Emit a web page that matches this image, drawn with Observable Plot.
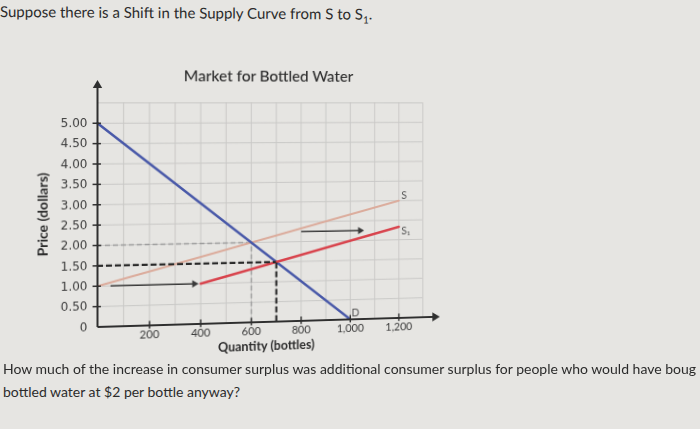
<!DOCTYPE html>
<html>
<head>
<meta charset="utf-8">
<script src="https://cdn.jsdelivr.net/npm/d3@7"></script>
<script src="https://cdn.jsdelivr.net/npm/@observablehq/plot@0.6"></script>
<style>
  html, body { margin: 0; padding: 0; background: #e6e5e2; width: 700px; height: 429px; overflow: hidden; }
  body { position: relative; font-family: Lato, "Open Sans", sans-serif; color: #2b2b2b; }
  #q1 { position: absolute; left: 0px; top: 2px; font-size: 15px; white-space: nowrap; transform: skewY(0.4deg); transform-origin: 0 0; }
  #chart { position: absolute; left: 0; top: 0; width: 700px; height: 360px; }
  #chart svg { transform-origin: 97px 103px; transform: matrix3d(1,0,0,0.000134, 0,1,0,0, 0,0,1,0, 0,0,0,1); overflow: visible; }
  .q2 { position: absolute; left: 3px; font-size: 14px; line-height: 16px; white-space: nowrap; }
  #q2a { top: 361px; }
  #q2b { top: 384px; }
</style>
</head>
<body>
<div id="q1">Suppose there is a Shift in the Supply Curve from S to S<sub style="font-size:10px">1</sub>.</div>
<div id="chart"></div>
<div class="q2" id="q2a">How much of the increase in consumer surplus was additional consumer surplus for people who would have boug</div>
<div class="q2" id="q2b">bottled water at $2 per bottle anyway?</div>
<script>
// ---- data ----
const chartTitle = "Market for Bottled Water";
const xLabel = "Quantity (bottles)";
const yLabel = "Price (dollars)";

const demandQ = [0, 1000];
const demandP = [5, 0];
const supplyQ = [0, 1200];
const supplyP = [1, 3];
const supply1Q = [400, 1200];
const supply1P = [1, 2.33];

const xTicks = [200, 400, 600, 800, 1000, 1200];
const yTicks = [0, 0.5, 1, 1.5, 2, 2.5, 3, 3.5, 4, 4.5, 5];
const gridXs = [0, 100, 200, 300, 400, 500, 600, 700, 800, 900, 1000, 1100, 1200, 1300];
const gridYs = [0.5, 1, 1.5, 2, 2.5, 3, 3.5, 4, 4.5, 5, 5.5];

const oldEqQ = 600, oldEqP = 2.0;
const newEqQ = 700, newEqP = 1.5;

const shiftFromQ = [50, 800];
const shiftToQ = [375, 1040];
const shiftP = [1.0, 2.25];

const curveLabels = ["S", "S₁", "D"];
const curveLabelQ = [1210, 1210, 1005];
const curveLabelP = [3.12, 2.22, 0.17];

// ---- build ----
const toPts = (qs, ps) => qs.map((q, i) => ({q, p: ps[i]}));
const D = toPts(demandQ, demandP);
const S = toPts(supplyQ, supplyP);
const S1 = toPts(supply1Q, supply1P);
const shifts = shiftFromQ.map((q, i) => ({q1: q, q2: shiftToQ[i], p: shiftP[i]}));
const labels = curveLabels.map((t, i) => ({t, q: curveLabelQ[i], p: curveLabelP[i]}));

const axisColor = "#2f2f2f";
const gridColor = "#c9c8c6";
const sans = "Lato, 'Open Sans', sans-serif";

const plot = Plot.plot({
  width: 700,
  height: 360,
  marginLeft: 97,
  marginRight: 247,
  marginTop: 82,
  marginBottom: 33.5,
  style: { background: "transparent", fontFamily: sans, color: "#333", overflow: "visible" },
  x: { domain: [0, 1360], axis: null },
  y: { domain: [0, 6], axis: null },
  marks: [
    // grid
    Plot.ruleX(gridXs, { x: d => d, y1: 0, y2: 5.5, stroke: gridColor, strokeWidth: 1 }),
    Plot.ruleY(gridYs, { y: d => d, x1: 0, x2: 1300, stroke: gridColor, strokeWidth: 1 }),
    // dashed reference lines (old equilibrium)
    Plot.ruleY([oldEqP], { y: d => d, x1: 0, x2: oldEqQ, stroke: "#9d9d9d", strokeWidth: 1.5, strokeDasharray: "5,3" }),
    Plot.ruleX([oldEqQ], { x: d => d, y1: 0, y2: oldEqP, stroke: "#9d9d9d", strokeWidth: 1.5, strokeDasharray: "5,3" }),
    // curves
    Plot.line(S, { x: "q", y: "p", stroke: "#dbab9b", strokeWidth: 2 }),
    Plot.line(D, { x: "q", y: "p", stroke: "#4858a8", strokeWidth: 2.5 }),
    Plot.line(S1, { x: "q", y: "p", stroke: "#d8434c", strokeWidth: 2.5 }),
    // dashed reference lines (new equilibrium)
    Plot.ruleY([newEqP], { y: d => d, x1: 0, x2: newEqQ, stroke: "#2a2a2a", strokeWidth: 2.2, strokeDasharray: "6,3" }),
    Plot.ruleX([newEqQ], { x: d => d, y1: 0, y2: newEqP, stroke: "#2a2a2a", strokeWidth: 2.2, strokeDasharray: "6,3" }),
    // shift arrows
    Plot.link(shifts, { x1: "q1", x2: "q2", y1: "p", y2: "p", stroke: "#3a3a3a", strokeWidth: 1.5 }),
    Plot.dot(shifts, { x: "q2", y: "p", symbol: "triangle2", r: 3.6, rotate: 90, fill: "#3a3a3a" }),
    // axes
    Plot.link([0], { x1: 0, x2: 1345, y1: 0, y2: 0, stroke: axisColor, strokeWidth: 2 }),
    Plot.link([0], { x1: 0, x2: 0, y1: 0, y2: 5.9, stroke: axisColor, strokeWidth: 2 }),
    Plot.dot([0], { x: 1350, y: 0, symbol: "triangle2", r: 4.5, rotate: 90, fill: axisColor }),
    Plot.dot([0], { x: 0, y: 5.93, symbol: "triangle2", r: 4.5, rotate: 0, fill: axisColor }),
    Plot.ruleX(xTicks, { x: d => d, y1: -0.09, y2: 0.1, stroke: axisColor, strokeWidth: 1.5 }),
    Plot.ruleY(yTicks.filter(d => d > 0), { y: d => d, x1: -17, x2: 15, stroke: axisColor, strokeWidth: 1.5 }),
    Plot.axisX(xTicks, { tickSize: 0, tickPadding: 5, tickFormat: d3.format(","), fontSize: 11.5, fontFamily: "'Liberation Sans Narrow', Lato, sans-serif", fill: "#3a3a3a", label: null }),
    Plot.axisY(yTicks, { tickSize: 0, tickPadding: 10, tickFormat: d => d === 0 ? "0" : d.toFixed(2), fontSize: 12, fontFamily: "'DejaVu Sans', sans-serif", fill: "#3a3a3a", label: null }),
    // curve labels
    Plot.text(labels, { x: "q", y: "p", text: "t", textAnchor: "start", fontSize: 11, fill: "#555" }),
    // titles
    Plot.text([chartTitle], { frameAnchor: "top", textAnchor: "middle", lineAnchor: "middle", dy: -7, dx: -2, text: d => d, fontSize: 16, fontWeight: 500, fill: "#2b2b2b" }),
    Plot.text([xLabel], { frameAnchor: "bottom", textAnchor: "middle", lineAnchor: "middle", dy: 25, dx: -5, text: d => d, fontSize: 13, fontWeight: "bold", fill: "#2b2b2b" }),
    Plot.text([yLabel], { frameAnchor: "left", textAnchor: "middle", lineAnchor: "middle", dx: -54, dy: 9, rotate: -90, text: d => d, fontSize: 14, fontWeight: "bold", fill: "#2b2b2b" })
  ]
});
document.getElementById("chart").appendChild(plot);
</script>
</body>
</html>
